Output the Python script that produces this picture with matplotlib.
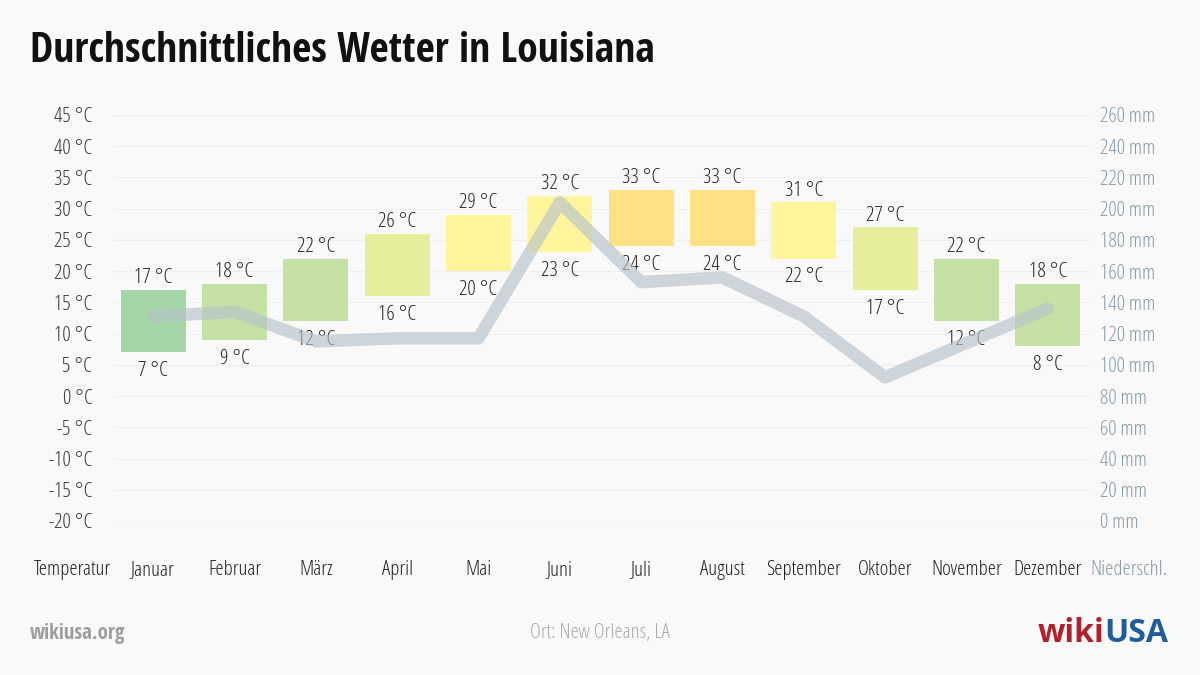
import matplotlib.pyplot as plt
from matplotlib.font_manager import FontProperties
import matplotlib.transforms as mtransforms
import numpy as np

# Data
months = ['Januar', 'Februar', 'März', 'April', 'Mai', 'Juni', 'Juli',
          'August', 'September', 'Oktober', 'November', 'Dezember']
t_max = [17, 18, 22, 26, 29, 32, 33, 33, 31, 27, 22, 18]
t_min = [7, 9, 12, 16, 20, 23, 24, 24, 22, 17, 12, 8]
precip = [131, 134, 115, 117, 117, 204, 153, 156, 131, 92, 114, 136]
temp_ticks = list(range(-20, 50, 5))
precip_ticks = list(range(0, 280, 20))

LIGHT = FontProperties(family=['Open Sans', 'DejaVu Sans'], stretch='condensed',
                       weight=300, size=15)
TITLE = FontProperties(family=['Open Sans Condensed', 'DejaVu Sans'],
                       weight=700, size=30)
BOLD = FontProperties(family=['Open Sans Condensed', 'DejaVu Sans'],
                      weight=700, size=15)
LOGO = FontProperties(family=['Open Sans', 'DejaVu Sans'], weight=700, size=23)


def temp_color(t):
    if t >= 33:
        return '#ffe082'
    if t >= 28:
        return '#fff59d'
    if t >= 25:
        return '#e6ee9c'
    if t >= 18:
        return '#c5e1a5'
    return '#a5d6a7'


W, H = 1200, 675
fig = plt.figure(figsize=(12, 6.75), dpi=100)
fig.patch.set_facecolor('#f9f9f9')

# axes: x positions -0.5..13.5, y -20..45 mapped to pixels 115..521
ax = fig.add_axes([31.35 / W, (H - 521) / H, (1169.6 - 31.35) / W, 406 / H])
ax.set_facecolor('none')
ax.set_xlim(-0.5, 13.5)
ax.set_ylim(-20, 45)
ax.axis('off')

ax2 = ax.twinx()
ax2.set_ylim(0, 260)
ax2.axis('off')

# nudge text down a little (pixels)
down = mtransforms.ScaledTranslation(0, -2.5 / 100, fig.dpi_scale_trans)
tr1 = ax.transData + down
tr2 = ax2.transData + down

# grid
for t in temp_ticks:
    ax.plot([0.5, 12.5], [t, t], color='#efefef', lw=0.8, zorder=0)

x = np.arange(1, 13)
colors = [temp_color(t) for t in t_max]
heights = np.array(t_max) - np.array(t_min)
ax.bar(x, heights, bottom=t_min, width=0.8, color=colors, zorder=2)

for xi, hi, lo in zip(x, t_max, t_min):
    ax.text(xi, hi + 2.3, f'{hi} °C', ha='center', va='center',
            fontproperties=LIGHT, color='#222222', transform=tr1)
    ax.text(xi, lo - 2.6, f'{lo} °C', ha='center', va='center',
            fontproperties=LIGHT, color='#222222', transform=tr1)

ax2.plot(x, precip, color='#b7c3ca', lw=9, alpha=0.65,
         solid_capstyle='round', solid_joinstyle='round', zorder=3)

# tick labels
for t in temp_ticks:
    ax.text(0.25, t, f'{t} °C', ha='right', va='center',
            fontproperties=LIGHT, color='#333333', transform=tr1)
for p in precip_ticks:
    ax2.text(12.64, p, f'{p} mm', ha='left', va='center',
             fontproperties=LIGHT, color='#8899a3', transform=tr2)

# category labels
ax.text(0, -27.5, 'Temperatur', ha='center', va='center',
        fontproperties=LIGHT, color='#222222', clip_on=False, transform=tr1)
for xi, m in zip(x, months):
    ax.text(xi, -27.5, m, ha='center', va='center', fontproperties=LIGHT,
            color='#222222', clip_on=False, transform=tr1)
ax.text(13, -27.5, 'Niederschl.', ha='center', va='center',
        fontproperties=LIGHT, color='#8899a3', clip_on=False, transform=tr1)

# title and footer
fig.text(30 / W, 1 - 51 / H, 'Durchschnittliches Wetter in Louisiana',
         ha='left', va='center', fontproperties=TITLE, color='#111111')
fig.text(30 / W, 1 - 633 / H, 'wikiusa.org', ha='left', va='center',
         fontproperties=BOLD, color='#9e9e9e')
fig.text(600 / W, 1 - 633 / H, 'Ort: New Orleans, LA', ha='center',
         va='center', fontproperties=LIGHT, color='#aaaaaa')
t1 = fig.text(1168 / W, 1 - 633 / H, 'USA', ha='right', va='center',
              fontproperties=LOGO, color='#1f5c99')
fig.canvas.draw()
bb = t1.get_window_extent()
fig.text(bb.x0 / W, 1 - 633 / H, 'wiki', ha='right', va='center',
         fontproperties=LOGO, color='#b3202a')

plt.savefig('out.png', dpi=100, facecolor=fig.get_facecolor())
